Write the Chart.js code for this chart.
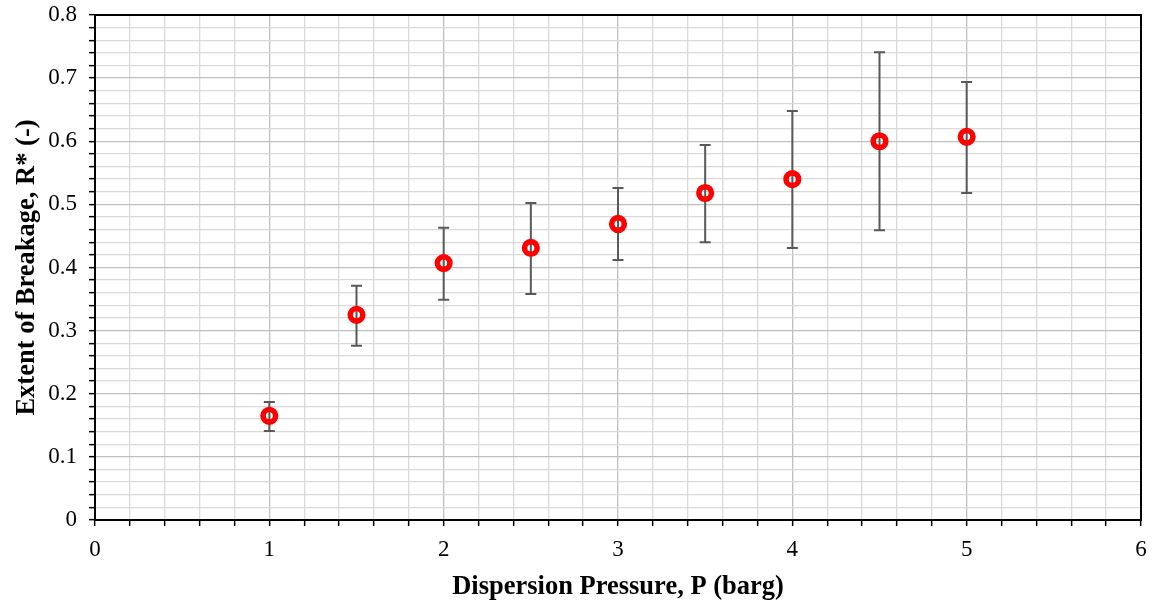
<!DOCTYPE html>
<html>
<head>
<meta charset="utf-8">
<script src="https://cdn.jsdelivr.net/npm/chart.js@4"></script>
<style>
	html, body { margin: 0; padding: 0; background: #fff; }
	#wrap { width: 1158px; height: 607px; }
</style>
</head>
<body>
<div id="wrap"><canvas id="graph"></canvas></div>
<script>
const pressure = [1, 1.5, 2, 2.5, 3, 3.5, 4, 4.5, 5];
const breakage = [0.165, 0.325, 0.407, 0.431, 0.469, 0.518, 0.540, 0.600, 0.607];
const errLow = [0.141, 0.276, 0.349, 0.358, 0.412, 0.440, 0.431, 0.459, 0.518];
const errHigh = [0.187, 0.371, 0.463, 0.502, 0.526, 0.594, 0.648, 0.741, 0.694];

const points = pressure.map((p, i) => ({ x: p, y: breakage[i] }));

const isMajor = (v, step) => Math.abs(v / step - Math.round(v / step)) < 1e-6;

const errorBars = {
	id: 'errorBars',
	beforeDatasetsDraw(chart) {
		const ctx = chart.ctx;
		const xs = chart.scales.x;
		const ys = chart.scales.y;
		ctx.save();
		ctx.strokeStyle = '#595959';
		ctx.lineWidth = 2;
		pressure.forEach((p, i) => {
			const x = xs.getPixelForValue(p);
			const y1 = ys.getPixelForValue(errLow[i]);
			const y2 = ys.getPixelForValue(errHigh[i]);
			ctx.beginPath();
			ctx.moveTo(x, y1);
			ctx.lineTo(x, y2);
			ctx.moveTo(x - 5.5, y1);
			ctx.lineTo(x + 5.5, y1);
			ctx.moveTo(x - 5.5, y2);
			ctx.lineTo(x + 5.5, y2);
			ctx.stroke();
		});
		ctx.restore();
	}
};

const frame = {
	id: 'frame',
	afterDraw(chart) {
		const a = chart.chartArea;
		const ctx = chart.ctx;
		ctx.save();
		ctx.strokeStyle = '#000';
		ctx.lineWidth = 2;
		ctx.strokeRect(a.left, a.top, a.right - a.left, a.bottom - a.top);
		ctx.restore();
	}
};

const config = {
	type: 'scatter',
	data: {
		datasets: [
			{
				label: 'R*',
				data: points,
				pointRadius: 6.3,
				pointHoverRadius: 6.3,
				pointBorderWidth: 5.6,
				pointBorderColor: '#ff0000',
				pointBackgroundColor: 'rgba(255,255,255,0)',
				showLine: false,
			},
		],
	},
	options: {
		responsive: false,
		animation: false,
		layout: { padding: { top: 15, right: 17, left: 0, bottom: 0 } },
		plugins: {
			legend: { display: false },
			tooltip: { enabled: false },
		},
		scales: {
			x: {
				type: 'linear',
				min: 0,
				max: 6,
				afterFit: (s) => {
					s.height = 87;
					s.paddingLeft = 0;
					s.paddingRight = 0;
				},
				ticks: {
					stepSize: 0.2,
					autoSkip: false,
					maxRotation: 0,
					padding: 10,
					color: '#000',
					font: { family: 'Liberation Serif', size: 23 },
					callback: (v) => (isMajor(v, 1) ? String(Math.round(v)) : ''),
				},
				grid: {
					color: (c) => (isMajor(c.tick.value, 1) ? '#bfbfbf' : '#d9d9d9'),
					lineWidth: 1.3,
					tickColor: '#000',
					tickLength: 6,
					tickWidth: 1.5,
				},
				border: { color: '#000', width: 2 },
				title: {
					display: true,
					text: 'Dispersion Pressure, P (barg)',
					color: '#000',
					font: { family: 'Liberation Serif', size: 26.5, weight: 'bold' },
					padding: { top: 12 },
				},
			},
			y: {
				min: 0,
				max: 0.8,
				afterFit: (s) => {
					s.width = 95;
					s.paddingTop = 0;
					s.paddingBottom = 0;
				},
				ticks: {
					stepSize: 0.02,
					autoSkip: false,
					padding: 12,
					color: '#000',
					font: { family: 'Liberation Serif', size: 23 },
					callback: (v) => {
						if (!isMajor(v, 0.1)) return '';
						return Math.abs(v) < 1e-9 ? '0' : v.toFixed(1);
					},
				},
				grid: {
					color: (c) => (isMajor(c.tick.value, 0.1) ? '#bfbfbf' : '#d9d9d9'),
					lineWidth: 1.3,
					tickColor: '#000',
					tickLength: 6,
					tickWidth: 1.5,
				},
				border: { color: '#000', width: 2 },
				title: {
					display: true,
					text: 'Extent of Breakage, R* (-)',
					color: '#000',
					font: { family: 'Liberation Serif', size: 26.5, weight: 'bold' },
					padding: { top: 11, bottom: 0 },
				},
			},
		},
	},
	plugins: [errorBars, frame],
};

const canvas = document.getElementById('graph');
canvas.width = 1158;
canvas.height = 607;
const c = new Chart(canvas, config);
</script>
</body>
</html>
